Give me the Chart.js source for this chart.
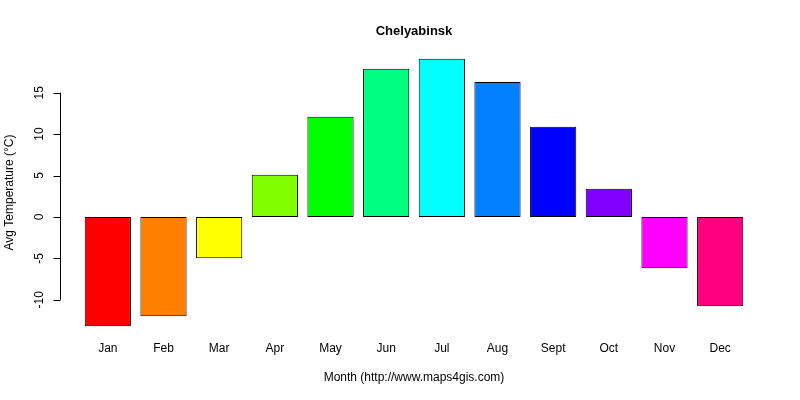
<!DOCTYPE html>
<html><head><meta charset="utf-8">
<script src="https://cdn.jsdelivr.net/npm/chart.js@4/dist/chart.umd.min.js"></script>
<style>html,body{margin:0;background:#fff}#wrap{width:800px;height:400px}</style>
</head><body><div id="wrap"><canvas id="c"></canvas></div>
<script>
const months = ['Jan','Feb','Mar','Apr','May','Jun','Jul','Aug','Sept','Oct','Nov','Dec'];
const temps = [-13.2,-12.0,-5.0,5.1,12.1,17.9,19.1,16.3,10.9,3.4,-6.2,-10.8];
const colors = ['#FF0000','#FF8000','#FFFF00','#80FF00','#00FF00','#00FF80','#00FFFF','#0080FF','#0000FF','#8000FF','#FF00FF','#FF0080'];
const yTicks = [-10,-5,0,5,10,15];
const FONT = '12px "Liberation Sans", Arial, sans-serif';

// R-style axes, labels and titles
const rAxes = {
  id: 'rAxes',
  afterDraw(chart) {
    const ctx = chart.ctx, y = chart.scales.y, x = chart.scales.x, a = chart.chartArea;
    ctx.save();
    ctx.strokeStyle = '#000'; ctx.fillStyle = '#000'; ctx.lineWidth = 1;
    const ax = 60.5;
    ctx.beginPath();
    ctx.moveTo(ax, y.getPixelForValue(yTicks[0]));
    ctx.lineTo(ax, y.getPixelForValue(yTicks[yTicks.length - 1]));
    yTicks.forEach(t => {
      const py = Math.round(y.getPixelForValue(t)) + 0.5;
      ctx.moveTo(ax, py); ctx.lineTo(ax - 7, py);
    });
    ctx.stroke();
    ctx.font = FONT; ctx.textAlign = 'center'; ctx.textBaseline = 'middle';
    yTicks.forEach(t => {
      ctx.save();
      ctx.translate(40, y.getPixelForValue(t));
      ctx.rotate(-Math.PI / 2);
      ctx.fillText(String(t), 0, 0);
      ctx.restore();
    });
    months.forEach((m, i) => ctx.fillText(m, x.getPixelForValue(i), 349));
    const cx = (a.left + a.right) / 2;
    ctx.fillText('Month (http://www.maps4gis.com)', cx, 378);
    ctx.save();
    ctx.translate(10, (a.top + a.bottom) / 2);
    ctx.rotate(-Math.PI / 2);
    ctx.fillText('Avg Temperature (°C)', 0, 0);
    ctx.restore();
    ctx.font = 'bold 13px "Liberation Sans", Arial, sans-serif';
    ctx.fillText('Chelyabinsk', cx, 31);
    ctx.restore();
  }
};

new Chart(document.getElementById('c'), {
  type: 'bar',
  data: { labels: months, datasets: [{
    data: temps, backgroundColor: colors, borderColor: '#000', borderWidth: 1,
    borderSkipped: false, barPercentage: 0.83, categoryPercentage: 1
  }]},
  options: {
    responsive: true, maintainAspectRatio: false, animation: false,
    layout: { padding: { left: 80, right: 52, top: 48, bottom: 63 } },
    plugins: { legend: { display: false }, tooltip: { enabled: false } },
    scales: {
      x: { display: false },
      y: { display: false, min: -14.5, max: 20.4 }
    }
  },
  plugins: [rAxes]
});
</script></body></html>
